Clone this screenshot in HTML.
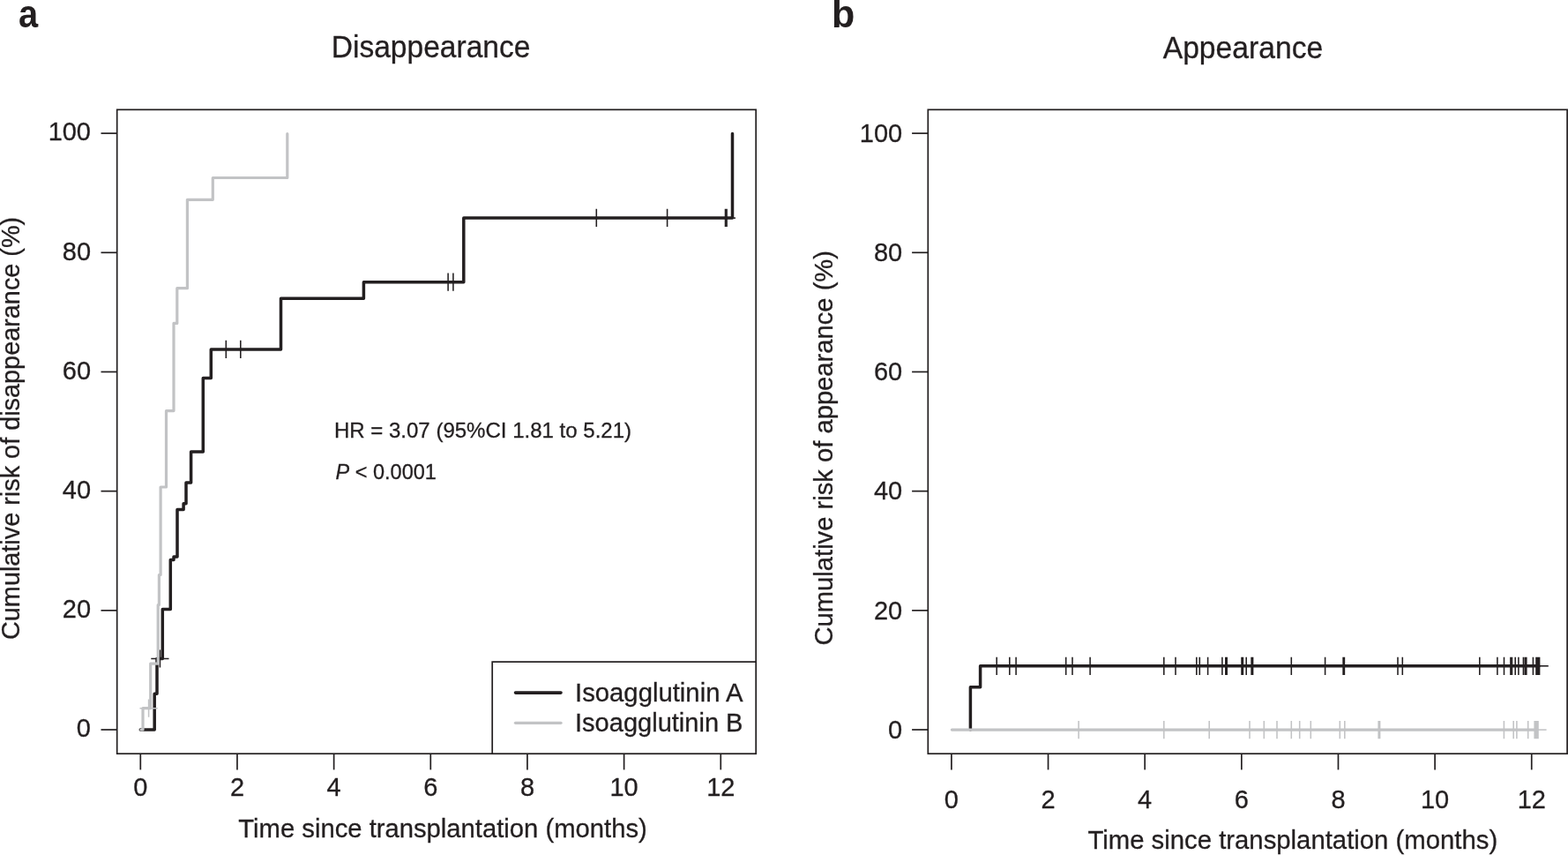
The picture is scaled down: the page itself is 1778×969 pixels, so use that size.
<!DOCTYPE html>
<html lang="en">
<head>
<meta charset="utf-8">
<title>Cumulative risk of isoagglutinin disappearance and appearance</title>
<style>
html,body{margin:0;padding:0;background:#ffffff;}
body{width:1778px;height:969px;overflow:hidden;font-family:"Liberation Sans", Arial, Helvetica, sans-serif;}
svg{display:block;}
svg text{stroke:#231f20;stroke-width:0.3px;}
svg text.b{stroke:none;}
</style>
</head>
<body>
<svg width="1778" height="969" viewBox="0 0 1778 969" font-family='"Liberation Sans", Arial, Helvetica, sans-serif' fill="#231f20">
<rect x="0" y="0" width="1778" height="969" fill="#ffffff"/>
<rect x="132.7" y="124.3" width="724.50" height="729.90" fill="none" stroke="#231f20" stroke-width="1.7"/>
<line x1="114.50" y1="827.00" x2="132.7" y2="827.00" stroke="#231f20" stroke-width="1.7"/>
<text transform="translate(103.0,835.30) scale(0.96,1)" font-size="30.2" text-anchor="end">0</text>
<line x1="114.50" y1="691.82" x2="132.7" y2="691.82" stroke="#231f20" stroke-width="1.7"/>
<text transform="translate(103.0,700.12) scale(0.96,1)" font-size="30.2" text-anchor="end">20</text>
<line x1="114.50" y1="556.64" x2="132.7" y2="556.64" stroke="#231f20" stroke-width="1.7"/>
<text transform="translate(103.0,564.94) scale(0.96,1)" font-size="30.2" text-anchor="end">40</text>
<line x1="114.50" y1="421.46" x2="132.7" y2="421.46" stroke="#231f20" stroke-width="1.7"/>
<text transform="translate(103.0,429.76) scale(0.96,1)" font-size="30.2" text-anchor="end">60</text>
<line x1="114.50" y1="286.28" x2="132.7" y2="286.28" stroke="#231f20" stroke-width="1.7"/>
<text transform="translate(103.0,294.58) scale(0.96,1)" font-size="30.2" text-anchor="end">80</text>
<line x1="114.50" y1="151.10" x2="132.7" y2="151.10" stroke="#231f20" stroke-width="1.7"/>
<text transform="translate(103.0,159.40) scale(0.96,1)" font-size="30.2" text-anchor="end">100</text>
<line x1="159.30" y1="854.2" x2="159.30" y2="872.40" stroke="#231f20" stroke-width="1.7"/>
<text transform="translate(159.30,902.3) scale(0.96,1)" font-size="30.2" text-anchor="middle">0</text>
<line x1="268.96" y1="854.2" x2="268.96" y2="872.40" stroke="#231f20" stroke-width="1.7"/>
<text transform="translate(268.96,902.3) scale(0.96,1)" font-size="30.2" text-anchor="middle">2</text>
<line x1="378.62" y1="854.2" x2="378.62" y2="872.40" stroke="#231f20" stroke-width="1.7"/>
<text transform="translate(378.62,902.3) scale(0.96,1)" font-size="30.2" text-anchor="middle">4</text>
<line x1="488.28" y1="854.2" x2="488.28" y2="872.40" stroke="#231f20" stroke-width="1.7"/>
<text transform="translate(488.28,902.3) scale(0.96,1)" font-size="30.2" text-anchor="middle">6</text>
<line x1="597.94" y1="854.2" x2="597.94" y2="872.40" stroke="#231f20" stroke-width="1.7"/>
<text transform="translate(597.94,902.3) scale(0.96,1)" font-size="30.2" text-anchor="middle">8</text>
<line x1="707.60" y1="854.2" x2="707.60" y2="872.40" stroke="#231f20" stroke-width="1.7"/>
<text transform="translate(707.60,902.3) scale(0.96,1)" font-size="30.2" text-anchor="middle">10</text>
<line x1="817.26" y1="854.2" x2="817.26" y2="872.40" stroke="#231f20" stroke-width="1.7"/>
<text transform="translate(817.26,902.3) scale(0.96,1)" font-size="30.2" text-anchor="middle">12</text>
<text x="270.3" y="949.0" font-size="29.7" textLength="463.5" lengthAdjust="spacingAndGlyphs">Time since transplantation (months)</text>
<text transform="translate(22.1,725.0) rotate(-90)" font-size="29.7" textLength="479.2" lengthAdjust="spacingAndGlyphs">Cumulative risk of disappearance (%)</text>
<text x="375.7" y="65.2" font-size="34.8" textLength="225.8" lengthAdjust="spacingAndGlyphs">Disappearance</text>
<rect x="1052.3" y="124.3" width="724.80" height="729.90" fill="none" stroke="#231f20" stroke-width="1.7"/>
<line x1="1034.10" y1="827.00" x2="1052.3" y2="827.00" stroke="#231f20" stroke-width="1.7"/>
<text transform="translate(1023.2,836.80) scale(0.96,1)" font-size="30.2" text-anchor="end">0</text>
<line x1="1034.10" y1="691.82" x2="1052.3" y2="691.82" stroke="#231f20" stroke-width="1.7"/>
<text transform="translate(1023.2,701.62) scale(0.96,1)" font-size="30.2" text-anchor="end">20</text>
<line x1="1034.10" y1="556.64" x2="1052.3" y2="556.64" stroke="#231f20" stroke-width="1.7"/>
<text transform="translate(1023.2,566.44) scale(0.96,1)" font-size="30.2" text-anchor="end">40</text>
<line x1="1034.10" y1="421.46" x2="1052.3" y2="421.46" stroke="#231f20" stroke-width="1.7"/>
<text transform="translate(1023.2,431.26) scale(0.96,1)" font-size="30.2" text-anchor="end">60</text>
<line x1="1034.10" y1="286.28" x2="1052.3" y2="286.28" stroke="#231f20" stroke-width="1.7"/>
<text transform="translate(1023.2,296.08) scale(0.96,1)" font-size="30.2" text-anchor="end">80</text>
<line x1="1034.10" y1="151.10" x2="1052.3" y2="151.10" stroke="#231f20" stroke-width="1.7"/>
<text transform="translate(1023.2,160.90) scale(0.96,1)" font-size="30.2" text-anchor="end">100</text>
<line x1="1078.90" y1="854.2" x2="1078.90" y2="872.40" stroke="#231f20" stroke-width="1.7"/>
<text transform="translate(1078.90,916.0) scale(0.96,1)" font-size="30.2" text-anchor="middle">0</text>
<line x1="1188.54" y1="854.2" x2="1188.54" y2="872.40" stroke="#231f20" stroke-width="1.7"/>
<text transform="translate(1188.54,916.0) scale(0.96,1)" font-size="30.2" text-anchor="middle">2</text>
<line x1="1298.18" y1="854.2" x2="1298.18" y2="872.40" stroke="#231f20" stroke-width="1.7"/>
<text transform="translate(1298.18,916.0) scale(0.96,1)" font-size="30.2" text-anchor="middle">4</text>
<line x1="1407.82" y1="854.2" x2="1407.82" y2="872.40" stroke="#231f20" stroke-width="1.7"/>
<text transform="translate(1407.82,916.0) scale(0.96,1)" font-size="30.2" text-anchor="middle">6</text>
<line x1="1517.46" y1="854.2" x2="1517.46" y2="872.40" stroke="#231f20" stroke-width="1.7"/>
<text transform="translate(1517.46,916.0) scale(0.96,1)" font-size="30.2" text-anchor="middle">8</text>
<line x1="1627.10" y1="854.2" x2="1627.10" y2="872.40" stroke="#231f20" stroke-width="1.7"/>
<text transform="translate(1627.10,916.0) scale(0.96,1)" font-size="30.2" text-anchor="middle">10</text>
<line x1="1736.74" y1="854.2" x2="1736.74" y2="872.40" stroke="#231f20" stroke-width="1.7"/>
<text transform="translate(1736.74,916.0) scale(0.96,1)" font-size="30.2" text-anchor="middle">12</text>
<text x="1233.4" y="962.2" font-size="29.7" textLength="464.8" lengthAdjust="spacingAndGlyphs">Time since transplantation (months)</text>
<text transform="translate(944.3,731.5) rotate(-90)" font-size="29.7" textLength="447.5" lengthAdjust="spacingAndGlyphs">Cumulative risk of appearance (%)</text>
<text x="1318.7" y="65.8" font-size="34.8" textLength="181.5" lengthAdjust="spacingAndGlyphs">Appearance</text>
<text transform="translate(21.0,30.8) scale(0.915,1)" class="b" font-size="43.5" font-weight="bold">a</text>
<text transform="translate(943.0,31.0) scale(0.99,1)" class="b" font-size="43.5" font-weight="bold">b</text>
<path d="M159.3,827.0 L175.2,827.0 L175.2,786.2 L178.0,786.2 L178.0,746.5 L184.3,746.5 L184.3,690.5 L193.3,690.5 L193.3,634.5 L197.0,634.5 L197.0,631.0 L201.0,631.0 L201.0,577.5 L208.1,577.5 L208.1,570.7 L211.0,570.7 L211.0,546.9 L216.6,546.9 L216.6,512.0 L230.3,512.0 L230.3,428.5 L239.3,428.5 L239.3,395.9 L318.5,395.9 L318.5,338.3 L412.4,338.3 L412.4,319.7 L525.8,319.7 L525.8,246.9 L830.5,246.9 L830.5,151.6" fill="none" stroke="#231f20" stroke-width="3.5" stroke-linejoin="round" stroke-linecap="round"/>
<path d="M256.3,385.8V406.0M272.8,385.8V406.0" fill="none" stroke="#231f20" stroke-width="1.55"/>
<path d="M508.1,309.6V329.8M513.9,309.6V329.8" fill="none" stroke="#231f20" stroke-width="1.55"/>
<path d="M676.3,236.8V257.0M756.6,236.8V257.0M822.5,236.8V257.0M824.1,236.8V257.0" fill="none" stroke="#231f20" stroke-width="1.55"/>
<path d="M181.4,736.4V756.6M171.3,746.5H191.5" fill="none" stroke="#231f20" stroke-width="1.55"/>
<line x1="814" y1="247.1" x2="834.0" y2="247.1" stroke="#231f20" stroke-width="1.55"/>
<path d="M160.0,827.0 L162.0,827.0 L162.0,802.7 L170.7,802.7 L170.7,752.1 L179.2,752.1 L179.2,685.6 L180.4,685.6 L180.4,651.5 L182.1,651.5 L182.1,552.0 L188.5,552.0 L188.5,465.6 L197.0,465.6 L197.0,366.4 L200.8,366.4 L200.8,326.7 L212.4,326.7 L212.4,226.3 L241.3,226.3 L241.3,201.5 L325.8,201.5 L325.8,151.6" fill="none" stroke="#c2c3c5" stroke-width="3.2" stroke-linejoin="round" stroke-linecap="round"/>
<path d="M168.6,792.6V812.8M158.5,802.7H178.7" fill="none" stroke="#c2c3c5" stroke-width="1.55"/>
<text x="378.9" y="496.1" font-size="23.8" textLength="337.2" lengthAdjust="spacingAndGlyphs">HR = 3.07 (95%CI 1.81 to 5.21)</text>
<text x="380.5" y="543.0" font-size="23.5"><tspan font-style="italic">P</tspan> &lt; 0.0001</text>
<rect x="558.2" y="750.1" width="299.00" height="104.10" fill="#ffffff" stroke="#231f20" stroke-width="1.7"/>
<line x1="584.5" y1="785.1" x2="636.0" y2="785.1" stroke="#231f20" stroke-width="3.6" stroke-linecap="round"/>
<line x1="584.5" y1="819.3" x2="636.0" y2="819.3" stroke="#c2c3c5" stroke-width="3.3" stroke-linecap="round"/>
<text x="652.0" y="795.0" font-size="28.8" textLength="190.5" lengthAdjust="spacingAndGlyphs">Isoagglutinin A</text>
<text x="652.0" y="829.4" font-size="28.8" textLength="190.5" lengthAdjust="spacingAndGlyphs">Isoagglutinin B</text>
<path d="M1100.4,827.0 L1100.4,778.8 L1111.6,778.8 L1111.6,754.8 L1745.0,754.8" fill="none" stroke="#231f20" stroke-width="3.5" stroke-linejoin="round" stroke-linecap="round"/>
<path d="M1130.2,744.7V764.9M1144.8,744.7V764.9M1152.1,744.7V764.9M1208.7,744.7V764.9M1216.0,744.7V764.9M1236.1,744.7V764.9M1319.8,744.7V764.9M1333.0,744.7V764.9M1356.8,744.7V764.9M1360.3,744.7V764.9M1369.6,744.7V764.9M1385.9,744.7V764.9M1389.8,744.7V764.9M1391.2,744.7V764.9M1408.0,744.7V764.9M1409.4,744.7V764.9M1413.2,744.7V764.9M1419.1,744.7V764.9M1420.6,744.7V764.9M1464.3,744.7V764.9M1502.6,744.7V764.9M1523.1,744.7V764.9M1524.4,744.7V764.9M1585.0,744.7V764.9M1590.3,744.7V764.9M1677.8,744.7V764.9M1697.9,744.7V764.9M1705.5,744.7V764.9M1712.9,744.7V764.9M1714.5,744.7V764.9M1718.2,744.7V764.9M1721.9,744.7V764.9M1727.4,744.7V764.9M1729.3,744.7V764.9M1730.8,744.7V764.9M1738.4,744.7V764.9M1742.0,744.7V764.9M1743.2,744.7V764.9M1744.4,744.7V764.9M1745.6,744.7V764.9" fill="none" stroke="#231f20" stroke-width="1.55"/>
<line x1="1736" y1="754.8" x2="1755.8" y2="754.8" stroke="#231f20" stroke-width="1.55"/>
<path d="M1079.4,827.1 L1743.0,827.1" fill="none" stroke="#c2c3c5" stroke-width="3.3" stroke-linejoin="round" stroke-linecap="round"/>
<path d="M1223.1,817.0V837.2M1319.8,817.0V837.2M1371.2,817.0V837.2M1417.0,817.0V837.2M1433.3,817.0V837.2M1448.0,817.0V837.2M1464.3,817.0V837.2M1473.7,817.0V837.2M1486.3,817.0V837.2M1519.3,817.0V837.2M1524.8,817.0V837.2M1563.2,817.0V837.2M1564.6,817.0V837.2M1705.4,817.0V837.2M1716.2,817.0V837.2M1719.9,817.0V837.2M1732.7,817.0V837.2M1740.2,817.0V837.2M1741.6,817.0V837.2M1743.0,817.0V837.2M1744.0,817.0V837.2" fill="none" stroke="#c2c3c5" stroke-width="1.55"/>
<line x1="1734" y1="827.1" x2="1753.6" y2="827.1" stroke="#c2c3c5" stroke-width="1.55"/>
</svg>
</body>
</html>
